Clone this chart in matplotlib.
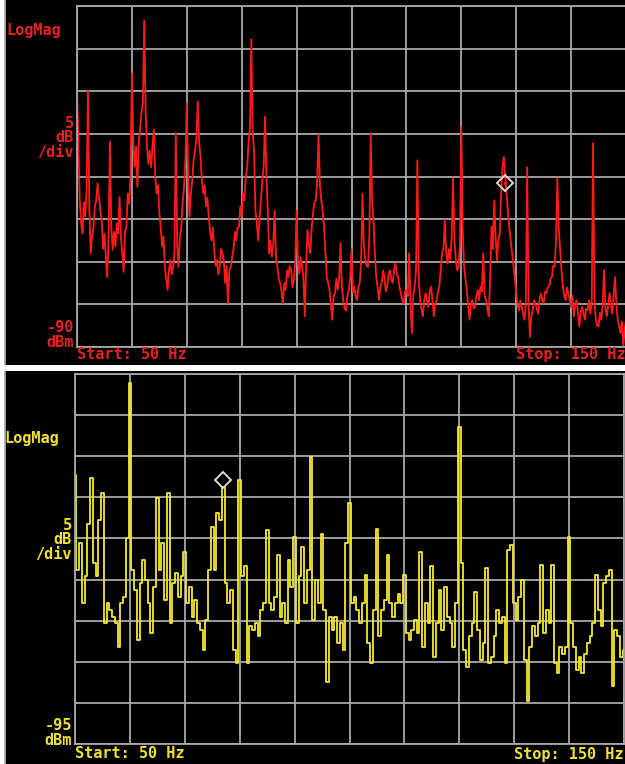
import numpy as np
import matplotlib
matplotlib.use("Agg")
import matplotlib.pyplot as plt

# ---------------- data ----------------
freq_start, freq_stop = 50.0, 150.0
top_freq = [50.0 + 0.25 * i for i in range(401)]
bottom_freq = [50.0 + 0.5 * i for i in range(201)]

top_dbm = [
    -59.5, -66.0, -72.8, -75.5, -76.7, -73.0, -74.7, -71.5,   # 50-51.75
    -59.9, -74.0, -79.0, -77.0, -75.9, -73.5, -72.8, -70.8,   # 52
    -72.4, -74.0, -75.1, -78.5, -76.7, -79.5, -81.8, -77.0,   # 54
    -65.9, -76.0, -78.6, -76.5, -78.2, -75.5, -76.7, -72.4,   # 56
    -77.0, -79.0, -81.2, -76.5, -75.9, -72.0, -73.2, -70.0,   # 58
    -57.9, -66.0, -68.9, -66.5, -71.2, -66.0, -64.2, -62.5,   # 60
    -61.4, -51.7, -62.5, -66.5, -68.5, -67.0, -68.9, -66.5,   # 62
    -64.5, -70.0, -72.0, -71.0, -74.3, -76.0, -78.2, -77.0,   # 64
    -80.6, -82.0, -83.3, -81.0, -79.8, -81.5, -80.6, -79.0,   # 66
    -64.9, -78.0, -80.6, -77.0, -75.9, -73.0, -71.2, -68.0,   # 68
    -61.4, -70.0, -74.7, -72.0, -70.4, -68.0, -66.9, -65.5,   # 70
    -61.2, -66.0, -67.7, -70.5, -72.0, -71.0, -73.5, -72.5,   # 72
    -74.7, -76.5, -77.5, -76.0, -78.6, -80.5, -79.8, -81.5,   # 74
    -80.6, -78.5, -79.0, -80.0, -82.5, -80.5, -84.9, -81.0,   # 76
    -80.6, -79.5, -78.6, -76.5, -77.5, -76.0, -75.9, -73.5,   # 78
    -74.7, -72.0, -72.8, -70.0, -68.9, -66.0, -64.5, -53.9,   # 80
    -64.9, -67.0, -74.0, -75.5, -77.5, -75.0, -72.8, -70.5,   # 82
    -68.9, -63.0, -70.0, -74.0, -79.0, -77.5, -79.4, -78.0,   # 84
    -74.0, -79.5, -80.6, -82.0, -82.5, -83.5, -84.9, -82.5,   # 86
    -83.3, -81.0, -81.8, -80.5, -81.0, -83.0, -82.1, -80.0,   # 88
    -74.0, -80.0, -81.4, -79.5, -80.6, -82.0, -86.4, -80.0,   # 90
    -76.3, -78.0, -79.0, -76.0, -74.3, -73.0, -72.8, -70.5,   # 92
    -65.1, -71.0, -72.8, -74.0, -75.9, -79.0, -81.8, -82.5,   # 94
    -83.3, -85.0, -86.8, -84.0, -83.7, -82.0, -83.3, -82.0,   # 96
    -77.8, -83.0, -84.5, -85.5, -85.7, -84.0, -83.3, -82.0,   # 98
    -78.6, -83.5, -82.9, -84.0, -84.5, -83.0, -82.5, -80.0,   # 100
    -72.0, -78.0, -79.8, -80.5, -80.6, -77.0, -64.9, -73.0,   # 102
    -75.1, -79.0, -81.8, -83.0, -84.5, -83.0, -82.5, -81.0,   # 104
    -81.8, -83.5, -82.9, -81.5, -81.0, -82.0, -82.5, -81.0,   # 106
    -80.2, -81.5, -81.8, -83.0, -83.7, -84.5, -84.9, -83.5,   # 108
    -83.3, -84.0, -79.0, -85.0, -88.4, -84.0, -82.9, -81.0,   # 110
    -68.1, -82.0, -84.5, -85.5, -86.4, -84.5, -83.7, -84.5,   # 112
    -85.3, -83.5, -82.9, -84.5, -86.4, -85.0, -84.5, -83.5,   # 114
    -82.9, -81.0, -79.0, -78.5, -75.1, -79.0, -80.2, -78.5,   # 116
    -79.8, -77.0, -70.2, -77.5, -79.8, -81.0, -80.6, -78.0,   # 118
    -64.2, -76.0, -80.6, -82.0, -83.3, -85.0, -86.8, -85.0,   # 120
    -84.5, -85.5, -85.3, -84.0, -83.3, -84.5, -82.9, -83.5,   # 122
    -79.0, -84.0, -84.5, -85.5, -86.4, -82.0, -75.9, -78.5,   # 124
    -72.8, -77.0, -79.8, -77.5, -76.7, -72.0, -68.9, -67.7,   # 126
    -70.0, -72.0, -74.3, -76.0, -77.5, -79.0, -80.6, -82.0,   # 128
    -83.7, -85.0, -85.7, -84.5, -85.3, -86.0, -86.8, -85.0,   # 130
    -68.9, -85.0, -88.8, -86.5, -85.7, -84.5, -84.9, -85.5,   # 132
    -86.1, -84.5, -83.7, -84.5, -84.9, -83.5, -83.7, -83.0,   # 134
    -82.9, -82.0, -81.8, -80.5, -80.6, -77.5, -70.2, -76.0,   # 136
    -78.6, -81.0, -82.9, -84.0, -84.5, -83.0, -83.7, -84.5,   # 138
    -85.3, -84.0, -86.4, -85.0, -84.5, -86.0, -87.6, -86.0,   # 140
    -85.3, -86.0, -86.8, -85.5, -85.7, -84.5, -86.1, -85.0,   # 142
    -66.1, -84.0, -86.8, -87.5, -87.6, -86.0, -86.8, -85.0,   # 144
    -81.0, -85.5, -86.4, -85.0, -83.7, -85.0, -86.1, -84.0,   # 146
    -81.8, -85.0, -86.8, -87.5, -88.4, -87.0, -89.9, -88.0,   # 148
    -86.8,                                                     # 150
]

bottom_dbm = [
    -62.3, -73.8, -70.6, -77.9, -74.6, -68.2, -62.7, -73.0, -74.6, -67.8,   # 50.0-54.5
    -64.5, -80.3, -77.9, -78.7, -79.5, -80.3, -83.2, -77.9, -77.1, -70.0,   # 55.0-59.5
    -51.1, -73.8, -76.3, -82.4, -75.4, -72.6, -75.0, -77.9, -81.5, -75.9,   # 60.0-64.5
    -65.1, -73.8, -70.6, -77.5, -64.5, -80.3, -75.4, -74.2, -77.1, -74.6,   # 65.0-69.5
    -71.6, -77.9, -75.9, -79.5, -77.5, -80.3, -81.1, -83.6, -79.9, -73.8,   # 70.0-74.5
    -68.6, -73.8, -66.9, -67.7, -63.7, -75.4, -77.9, -76.3, -83.6, -85.2,   # 75.0-79.5
    -62.9, -74.6, -73.4, -85.2, -80.7, -81.1, -80.3, -81.9, -78.7, -77.9,   # 80.0-84.5
    -69.0, -77.9, -78.7, -77.1, -72.0, -79.5, -77.9, -80.3, -72.6, -75.9,   # 85.0-89.5
    -69.8, -80.3, -74.6, -71.0, -77.9, -73.8, -60.1, -79.9, -75.0, -77.9,   # 90.0-94.5
    -69.4, -78.7, -87.4, -79.5, -81.1, -79.5, -82.7, -80.3, -83.6, -70.6,   # 95.0-99.5
    -65.7, -77.9, -77.1, -78.7, -80.3, -77.9, -74.4, -82.7, -85.2, -78.7,   # 100.0-104.5
    -68.8, -81.9, -78.7, -77.5, -72.0, -77.9, -79.5, -77.9, -76.7, -77.9,   # 105.0-109.5
    -74.4, -81.5, -82.4, -81.1, -79.9, -81.5, -71.6, -83.2, -77.9, -80.3,   # 110.0-114.5
    -73.4, -84.4, -80.3, -76.3, -81.1, -75.9, -79.5, -80.3, -83.2, -77.9,   # 115.0-119.5
    -56.4, -73.0, -83.6, -85.6, -81.9, -80.3, -76.5, -81.1, -84.8, -82.7,   # 120.0-124.5
    -73.6, -85.2, -84.4, -81.9, -78.7, -80.3, -79.5, -85.2, -71.4, -70.8,   # 125.0-129.5
    -77.9, -79.9, -77.1, -75.0, -84.8, -89.8, -83.2, -80.7, -81.9, -80.3,   # 130.0-134.5
    -73.2, -81.5, -78.7, -80.3, -73.2, -85.2, -86.4, -83.2, -84.0, -83.2,   # 135.0-139.5
    -69.8, -80.3, -83.2, -86.0, -84.4, -86.4, -84.0, -82.7, -81.9, -80.3,   # 140.0-144.5
    -74.4, -78.7, -80.7, -75.4, -74.6, -73.8, -88.0, -81.1, -81.9, -84.4,   # 145.0-149.5
    -83.6,                                                                   # 150.0
]

top_marker = (128.0, -70.8)
bottom_marker = (76.9, -62.9)

top_ref_bottom, top_divs = -90, 8
bottom_ref_bottom, bottom_divs = -95, 9
db_per_div = 5

# ---------------- figure ----------------
W, H = 625, 764
fig = plt.figure(figsize=(W / 100, H / 100), dpi=100, facecolor="white")

def fx(px):
    return px / W

def fy(py):
    return 1 - py / H

MONO = "DejaVu Sans Mono"
GRID = "#a8a8a8"
FS = 11

def panel(y0, y1):
    bg = fig.add_axes([fx(5), fy(y1), fx(620), (y1 - y0) / H])
    bg.set_facecolor("black")
    bg.set_xticks([]); bg.set_yticks([])
    for s in bg.spines.values():
        s.set_visible(False)
    bg.spines["left"].set_visible(True)
    bg.spines["left"].set_color("#b0b0b0")
    bg.spines["left"].set_linewidth(1.2)
    return bg

def plot_axes(xl, xr, yt, yb, ref_bottom, ndiv):
    ax = fig.add_axes([fx(xl), fy(yb), (xr - xl) / W, (yb - yt) / H])
    ax.set_facecolor("black")
    ax.set_xlim(freq_start, freq_stop)
    ax.set_ylim(ref_bottom, ref_bottom + ndiv * db_per_div)
    ax.set_xticks(np.arange(freq_start, freq_stop + 0.1, 10))
    ax.set_yticks(np.arange(ref_bottom, ref_bottom + ndiv * db_per_div + 0.1, db_per_div))
    ax.grid(True, color=GRID, lw=1.3)
    ax.tick_params(length=0, labelbottom=False, labelleft=False)
    for s in ax.spines.values():
        s.set_color(GRID)
        s.set_linewidth(1.3)
    return ax

def label(x, y, s, color, ha="left"):
    fig.text(fx(x), fy(y), s, color=color, fontsize=FS, family=MONO, weight="bold",
             va="center", ha=ha, multialignment="right", linespacing=0.92)

# ---- top panel ----
panel(0, 365)
ax1 = plot_axes(77, 626, 6, 347, top_ref_bottom, top_divs)
red = "#ff1a1a"
ax1.plot(top_freq, top_dbm, color=red, lw=1.3)
ax1.plot(*top_marker, marker="D", ms=8, mfc="none", mec="#d8d8d8", mew=1.4)
ax1.plot(*top_marker, marker="o", ms=1.5, color=red)

tc = "#e82020"
label(6, 30, "LogMag", tc)
label(74, 138, "5\ndB\n/div", tc, ha="right")
label(74, 335, "-90\ndBm", tc, ha="right")
label(77, 355, "Start: 50 Hz", tc)
label(626, 355, "Stop: 150 Hz", tc, ha="right")

# ---- bottom panel ----
panel(371, 764)
ax2 = plot_axes(75, 624, 374, 744, bottom_ref_bottom, bottom_divs)
yel = "#f4e832"
ax2.plot(bottom_freq, bottom_dbm, color=yel, lw=1.3, drawstyle="steps-mid")
ax2.plot(*bottom_marker, marker="D", ms=8, mfc="none", mec="#d8d8d8", mew=1.4)

yc = "#f0e030"
label(4, 438, "LogMag", yc)
label(72, 540, "5\ndB\n/div", yc, ha="right")
label(72, 733, "-95\ndBm", yc, ha="right")
label(75, 754, "Start: 50 Hz", yc)
label(624, 754, "Stop: 150 Hz", yc, ha="right")

fig.savefig("out.png", dpi=100, facecolor="white")
